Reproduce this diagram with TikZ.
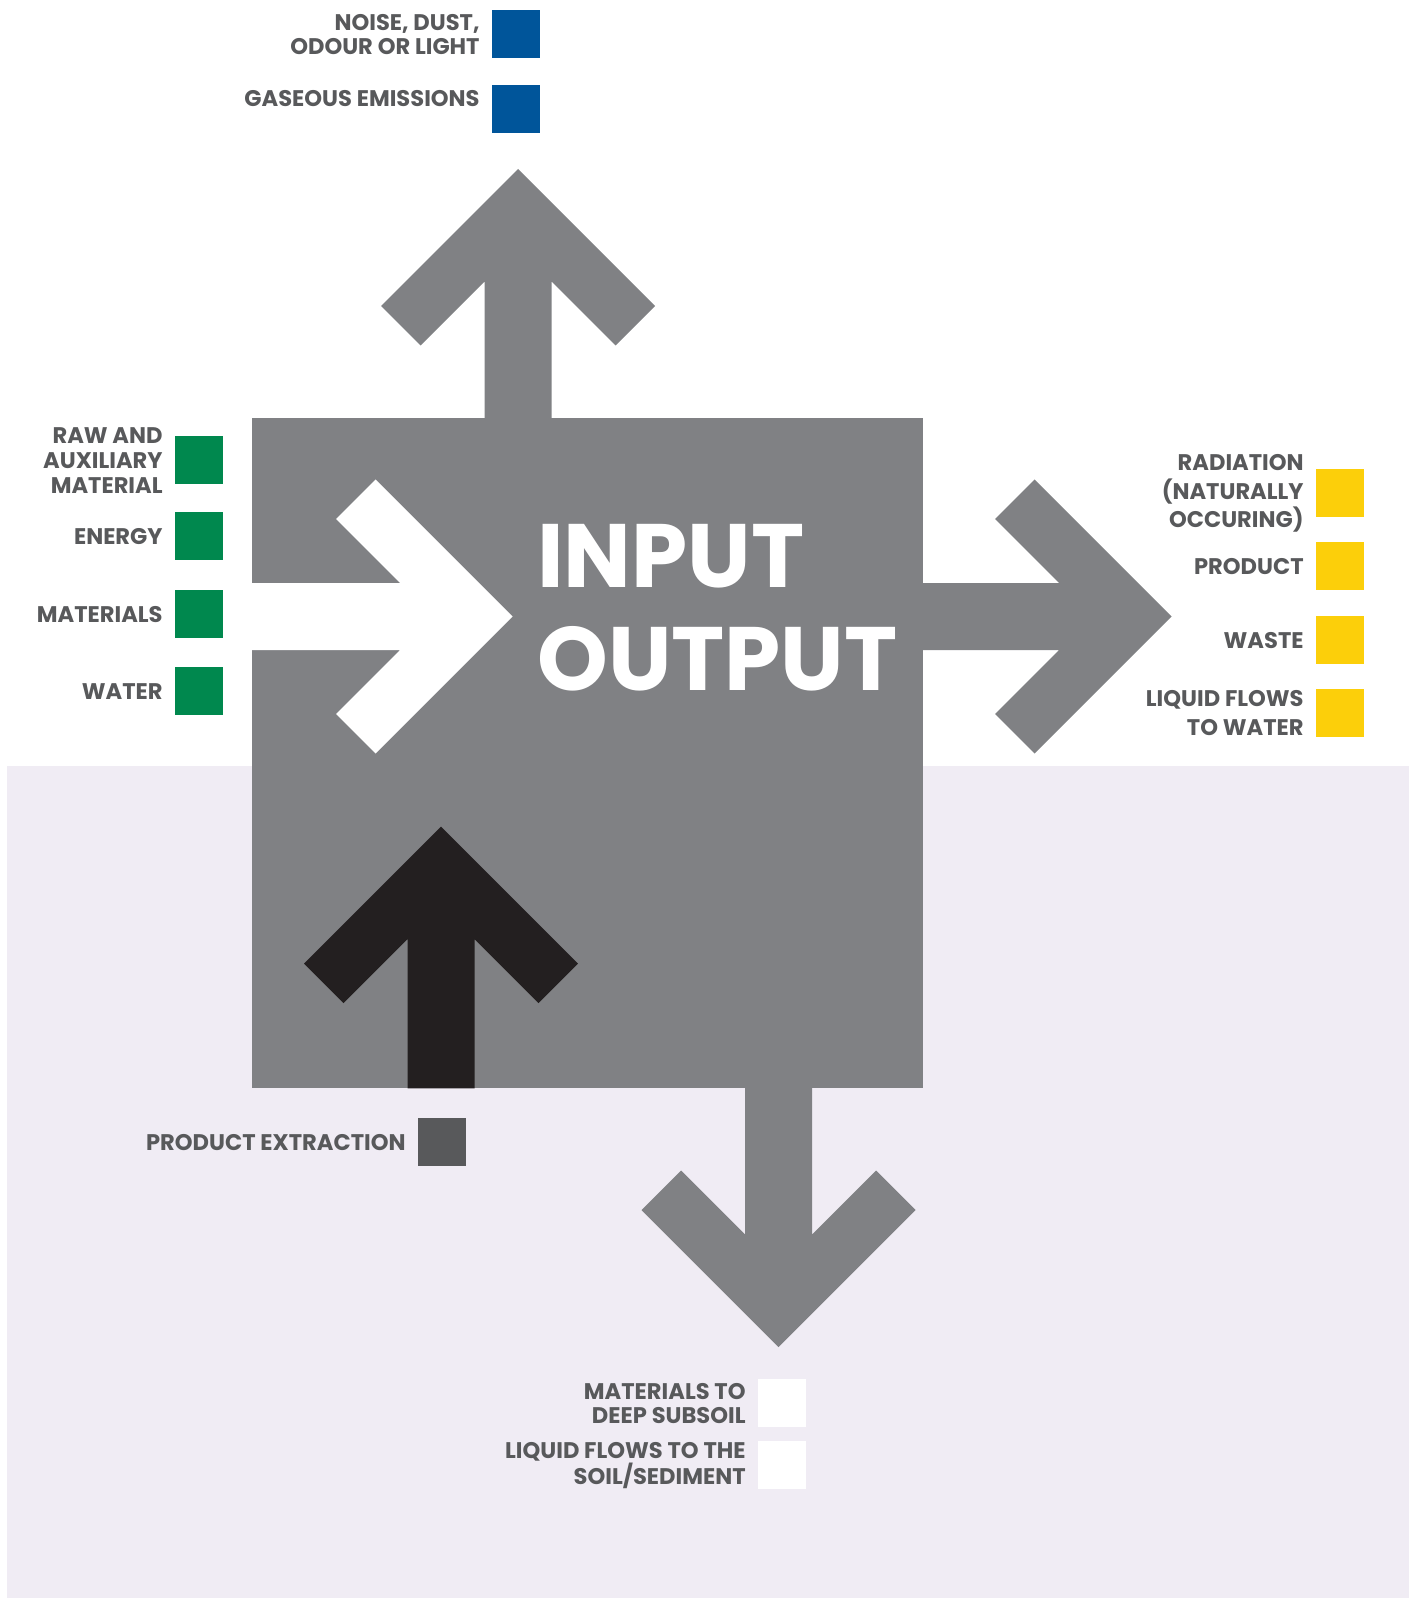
\documentclass[tikz,border=0pt]{standalone}
\usepackage{fontspec}
\setmainfont{Poppins}
\usetikzlibrary{positioning}
\definecolor{FlowGray}{HTML}{808184}
\definecolor{Ground}{HTML}{F0ECF4}
\definecolor{EmitBlue}{HTML}{00559A}
\definecolor{InGreen}{HTML}{00884E}
\definecolor{OutYellow}{HTML}{FCCF0A}
\definecolor{ExtractGray}{HTML}{58595B}
\definecolor{LabelGray}{HTML}{58595B}
\definecolor{Dark}{HTML}{231F20}

\tikzset{
	flowarrow/.pic={
		\fill (0,0) -- (137,137) -- (97.5,176.5) -- (33.5,112.5) -- (33.5,#1)
		-- (-33.5,#1) -- (-33.5,112.5) -- (-97.5,176.5) -- (-137,137) -- cycle;
	},
	legendbox/.style={minimum size=24pt, inner sep=0pt, anchor=north west},
	legendtext/.style={inner sep=0pt, align=right, text=LabelGray,
		font=\fontsize{11.3}{12.5}\selectfont\bfseries},
	titletext/.style={inner sep=0pt, text=white, anchor=base west,
		font=\fontsize{45}{51}\selectfont\bfseries},
}

\begin{document}
\begin{tikzpicture}[x=0.5pt, y=-0.5pt]
	\useasboundingbox (0,0) rectangle (1415,1598);
	
	% ground and process block
	\fill[Ground] (7,766) rectangle (1409,1598);
	\fill[FlowGray] (252,418.3) rectangle (922.7,1088.3);
	
	% flows
	\pic[fill=FlowGray] at (518,169) {flowarrow=260};
	\pic[fill=FlowGray, rotate=-90] at (1171.7,616.5) {flowarrow=260};
	\pic[fill=FlowGray, rotate=180] at (778.5,1347) {flowarrow=270};
	\pic[fill=white, rotate=-90] at (512.7,616.5) {flowarrow=261};
	\pic[fill=Dark] at (441,826.7) {flowarrow=261.6};
	
	% title
	\node[titletext] (titleIn) at (537,587.7) {INPUT};
	\node[titletext] (titleOut) at (537,690) {OUTPUT};
	
	% emissions
	\node[legendbox, fill=EmitBlue] (noiseSq) at (492,10) {};
	\node[legendbox, fill=EmitBlue] (gasSq) at (492,85) {};
	\node[legendtext, left=6pt of noiseSq, font=\fontsize{11.3}{12.2}\selectfont\bfseries] (noiseText) {NOISE, DUST,\\ODOUR OR LIGHT};
	\node[legendtext, anchor=north east] (gasText) at ([xshift=-6pt,yshift=-2.5pt]gasSq.north west) {GASEOUS EMISSIONS};
	
	% inputs
	\node[legendbox, fill=InGreen] (rawSq) at (175,436) {};
	\node[legendbox, fill=InGreen] (energySq) at (175,512) {};
	\node[legendbox, fill=InGreen] (materialsSq) at (175,590) {};
	\node[legendbox, fill=InGreen] (waterSq) at (175,667) {};
	\node[legendtext, left=6pt of rawSq] (rawText) {RAW AND\\AUXILIARY\\MATERIAL};
	\node[legendtext, left=6pt of energySq] (energyText) {ENERGY};
	\node[legendtext, left=6pt of materialsSq] (materialsText) {MATERIALS};
	\node[legendtext, left=6pt of waterSq] (waterText) {WATER};
	
	% outputs
	\node[legendbox, fill=OutYellow] (radiationSq) at (1316,469) {};
	\node[legendbox, fill=OutYellow] (productSq) at (1316,542) {};
	\node[legendbox, fill=OutYellow] (wasteSq) at (1316,616) {};
	\node[legendbox, fill=OutYellow] (liquidSq) at (1316,689) {};
	\node[legendtext, left=6pt of radiationSq, font=\fontsize{11.3}{14.2}\selectfont\bfseries] (radiationText) {RADIATION\\(NATURALLY\\OCCURING)};
	\node[legendtext, left=6pt of productSq] (productText) {PRODUCT};
	\node[legendtext, left=6pt of wasteSq] (wasteText) {WASTE};
	\node[legendtext, left=6pt of liquidSq, font=\fontsize{11.3}{14.4}\selectfont\bfseries] (liquidText) {LIQUID FLOWS\\TO WATER};
	
	% extraction and soil
	\node[legendbox, fill=ExtractGray] (extractSq) at (418,1118) {};
	\node[legendtext, left=6pt of extractSq] (extractText) {PRODUCT EXTRACTION};
	\node[legendbox, fill=white] (subsoilSq) at (758,1379) {};
	\node[legendbox, fill=white] (sedimentSq) at (758,1441) {};
	\node[legendtext, left=6pt of subsoilSq, font=\fontsize{11.3}{11.8}\selectfont\bfseries] (subsoilText) {MATERIALS TO\\DEEP SUBSOIL};
	\node[legendtext, left=6pt of sedimentSq, font=\fontsize{11.3}{11.5}\selectfont\bfseries] (sedimentText) {LIQUID FLOWS TO THE\\SOIL/SEDIMENT};
\end{tikzpicture}
\end{document}
